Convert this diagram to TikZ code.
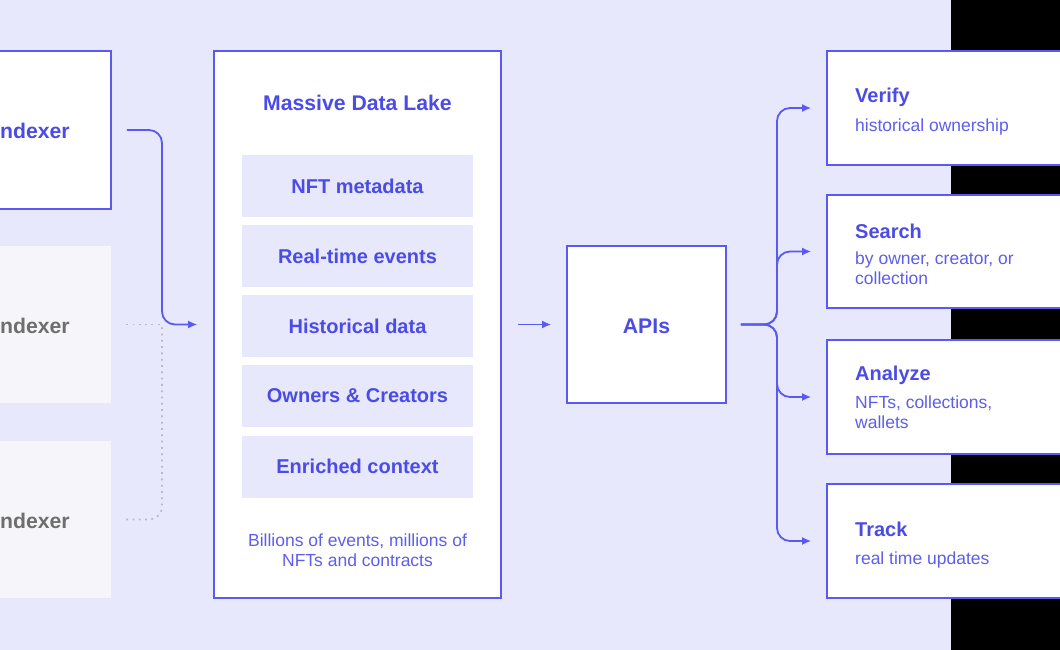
\documentclass[tikz,border=0pt]{standalone}
\usepackage{fontspec}
\setmainfont{Liberation Sans}
\usetikzlibrary{arrows.meta}
\definecolor{bgl}{HTML}{E8E8FC}
\definecolor{bl}{HTML}{5A5AF0}
\definecolor{bltxt}{HTML}{4B4BE6}
\definecolor{subtxt}{HTML}{5E5EEC}
\definecolor{greyfill}{HTML}{F6F6FA}
\definecolor{greytxt}{HTML}{6E6E6E}
\definecolor{dotgrey}{HTML}{B8B8C8}
\tikzset{
  card/.style={draw=bl, line width=1.6pt, fill=white, inner sep=0pt},
  ghost/.style={fill=greyfill, inner sep=0pt},
  chip/.style={fill=bgl, inner sep=0pt, minimum width=231pt, minimum height=62pt,
    text=bltxt, font=\fontsize{20}{24}\selectfont\bfseries},
  ttl/.style={text=bltxt, font=\fontsize{20}{24}\selectfont\bfseries, inner sep=0pt},
  big/.style={text=bltxt, font=\fontsize{21.2}{25}\selectfont\bfseries, inner sep=0pt},
  sub/.style={text=subtxt, font=\fontsize{17.5}{20}\selectfont, inner sep=0pt, align=left},
  flow/.style={draw=bl, line width=1.8pt, rounded corners=13pt, -{Latex[length=9pt,width=8pt]}},
  dots/.style={draw=dotgrey, line width=1.8pt, dash pattern=on 1.8pt off 4.5pt, rounded corners=13pt},
}
\begin{document}
\begin{tikzpicture}[x=1pt,y=-1pt]
\useasboundingbox (0,0) rectangle (1060,650);
\fill[bgl] (0,0) rectangle (951,650);
\fill[black] (951,0) rectangle (1060,650);

% left indexers
\node[card, minimum width=131pt, minimum height=158pt] (idx1) at (45.5,130) {};
\node[ghost, minimum width=131pt, minimum height=157pt] (idx2) at (45.5,324.5) {};
\node[ghost, minimum width=131pt, minimum height=157pt] (idx3) at (45.5,519.5) {};
\node[big, anchor=west] (t1) at (0,131) {ndexer};
\node[big, anchor=west, text=greytxt] (t2) at (0,326) {ndexer};
\node[big, anchor=west, text=greytxt] (t3) at (0,521) {ndexer};

% data lake
\node[card, minimum width=287pt, minimum height=547pt] (lake) at (357.5,324.5) {};
\node[big] (laket) at (357.5,103) {Massive Data Lake};
\node[chip] (c1) at (357.5,186) {NFT metadata};
\node[chip] (c2) at (357.5,256) {Real-time events};
\node[chip] (c3) at (357.5,326) {Historical data};
\node[chip] (c4) at (357.5,396) {Owners \& Creators};
\node[chip] (c5) at (357.5,466.5) {Enriched context};
\node[sub, align=center] (foot) at (357.5,550) {Billions of events, millions of\\NFTs and contracts};

% APIs
\node[card, minimum width=159pt, minimum height=157pt] (apis) at (646.5,324.5) {};
\node[big] (apist) at (646.5,326) {APIs};

% right cards
\node[card, minimum width=243pt, minimum height=114pt] (verify) at (948.5,108) {};
\node[card, minimum width=243pt, minimum height=113pt] (search) at (948.5,251.5) {};
\node[card, minimum width=243pt, minimum height=114pt] (analyze) at (948.5,397) {};
\node[card, minimum width=243pt, minimum height=114pt] (track) at (948.5,541) {};

\node[ttl, anchor=west] (vt) at (855,97) {Verify};
\node[sub, anchor=west] (vs) at (855,127) {historical ownership};
\node[ttl, anchor=west] (st) at (855,231) {Search};
\node[sub, anchor=north west] (ss) at (855,252) {by owner, creator, or\\collection};
\node[ttl, anchor=west] (at) at (855,375) {Analyze};
\node[sub, anchor=north west] (as) at (855,396) {NFTs, collections,\\wallets};
\node[ttl, anchor=west] (tt) at (855,529) {Track};
\node[sub, anchor=west] (ts) at (855,560) {real time updates};

% connectors
\coordinate (mx) at (162,0);
\coordinate (bx) at (777,0);
\draw[dots, shorten <=15pt] (idx2.east) -- (mx |- idx2.east);
\draw[dots, shorten <=15pt] (idx3.east) -- (idx3.east -| mx) -- (mx |- lake.west);
\draw[flow, shorten <=15pt, shorten >=16pt] (idx1.east) -- (idx1.east -| mx) -- (mx |- lake.west) -- (lake.west);
\draw[flow, shorten <=16pt, shorten >=15pt] (lake.east) -- (apis.west);
\draw[flow, shorten <=14pt, shorten >=15pt] (apis.east) -- (bx |- apis.east) -- (bx |- verify.west) -- (verify.west);
\draw[flow, shorten <=14pt, shorten >=15pt] (apis.east) -- (bx |- apis.east) -- (bx |- search.west) -- (search.west);
\draw[flow, shorten <=14pt, shorten >=15pt] (apis.east) -- (bx |- apis.east) -- (bx |- analyze.west) -- (analyze.west);
\draw[flow, shorten <=14pt, shorten >=15pt] (apis.east) -- (bx |- apis.east) -- (bx |- track.west) -- (track.west);
\end{tikzpicture}
\end{document}
